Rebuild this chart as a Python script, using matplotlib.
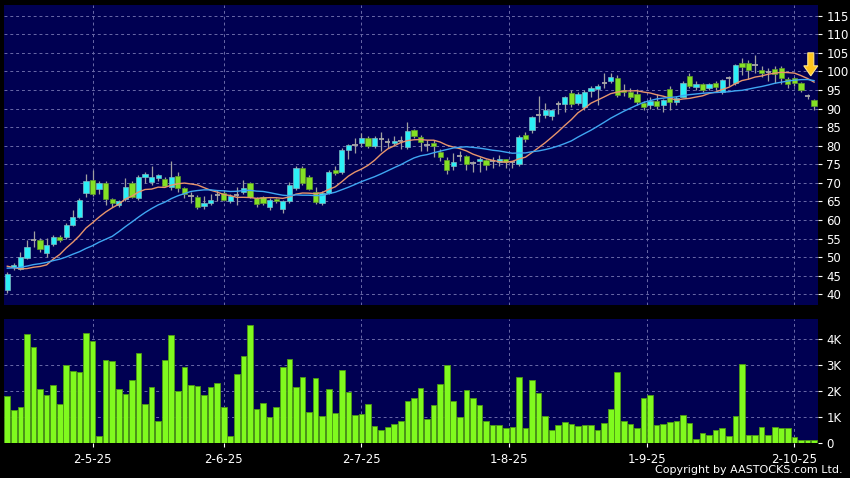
import matplotlib
matplotlib.use("Agg")
import matplotlib.pyplot as plt
from matplotlib.patches import Polygon
from matplotlib.transforms import IdentityTransform
import numpy as np
import pandas as pd

# ---------------- data ----------------
opens = [41.2, 47.3, 46.9, 49.8, 54.6, 54.5, 51.0, 53.6, 55.4, 55.4,
         58.7, 60.9, 67.4, 70.8, 68.4, 69.9, 65.6, 64.0, 65.6, 69.9,
         65.9, 71.7, 70.2, 71.2, 71.1, 69.0, 71.9, 68.5, 66.4, 66.3,
         63.8, 64.5, 66.8, 67.4, 65.0, 66.8, 67.6, 69.9, 65.8, 66.1,
         63.6, 65.6, 62.9, 65.0, 68.5, 73.9, 71.7, 67.6, 64.5, 67.4,
         73.5, 72.8, 78.9, 80.2, 80.7, 82.0, 80.0, 81.7, 80.9, 80.8,
         81.3, 79.6, 84.2, 82.4, 80.3, 80.6, 78.2, 76.2, 74.6, 77.1,
         77.2, 75.3, 75.9, 76.2, 75.9, 75.6, 76.3, 75.7, 75.1, 82.8,
         84.1, 88.3, 88.3, 88.0, 91.2, 91.2, 94.1, 91.6, 90.3, 94.8,
         95.3, 96.8, 97.3, 98.3, 95.0, 94.5, 93.9, 91.5, 90.9, 92.1,
         90.9, 95.3, 91.7, 93.2, 98.8, 95.9, 96.5, 95.6, 96.8, 94.6,
         98.2, 96.8, 102.4, 102.4, 101.7, 100.5, 99.8, 100.6, 101.0, 98.0,
         98.2, 96.8, 93.3, 92.3]
closes = [45.5, 47.9, 50.0, 52.7, 54.6, 52.1, 53.3, 55.4, 54.6, 58.7,
          60.9, 65.4, 70.6, 66.9, 69.9, 65.7, 64.7, 65.1, 68.8, 66.3,
          71.7, 72.4, 71.7, 72.1, 69.2, 71.7, 68.5, 67.0, 66.4, 63.6,
          64.5, 65.4, 66.8, 65.4, 66.5, 66.8, 68.7, 66.3, 64.3, 64.6,
          65.4, 65.1, 65.1, 69.3, 73.9, 69.9, 68.3, 64.9, 67.2, 73.0,
          72.6, 78.8, 80.2, 80.2, 82.0, 80.0, 82.0, 81.7, 80.9, 81.4,
          81.3, 84.0, 82.5, 80.9, 80.3, 79.9, 77.0, 73.4, 75.7, 77.1,
          75.2, 75.3, 76.3, 74.8, 75.9, 76.3, 75.6, 75.7, 82.3, 81.7,
          87.8, 88.3, 89.6, 89.6, 91.2, 93.0, 91.2, 93.9, 94.6, 95.5,
          96.1, 96.8, 98.4, 93.7, 94.4, 93.0, 91.7, 90.3, 92.1, 90.7,
          92.3, 91.8, 92.8, 96.8, 96.0, 96.6, 95.0, 96.7, 95.8, 97.6,
          98.2, 101.7, 101.1, 100.5, 101.7, 99.5, 99.8, 99.4, 98.3, 96.7,
          96.9, 95.0, 93.3, 90.7]
highs = [46.0, 48.5, 51.5, 54.5, 56.9, 55.1, 55.1, 56.0, 56.0, 59.2,
         62.7, 65.8, 72.4, 73.5, 70.5, 70.5, 66.0, 65.5, 71.2, 70.5,
         72.0, 72.8, 74.6, 72.5, 71.5, 76.0, 73.0, 69.0, 67.5, 66.8,
         66.5, 67.0, 68.0, 68.0, 67.0, 69.0, 70.8, 70.3, 66.3, 66.5,
         66.0, 66.0, 65.5, 70.2, 74.5, 74.5, 72.2, 69.0, 67.8, 73.5,
         74.5, 79.3, 80.5, 82.0, 83.5, 82.5, 82.5, 83.7, 82.0, 82.5,
         82.5, 86.5, 84.5, 83.0, 81.5, 81.5, 79.0, 77.0, 78.0, 78.5,
         77.5, 76.0, 77.0, 76.5, 77.0, 77.5, 76.5, 76.0, 83.0, 83.8,
         88.0, 93.5, 91.4, 90.0, 92.0, 93.5, 95.0, 94.5, 95.0, 96.0,
         96.5, 99.7, 99.5, 99.0, 96.5, 95.5, 95.3, 92.0, 93.0, 94.0,
         92.5, 96.0, 93.5, 97.5, 99.5, 97.5, 97.0, 97.0, 97.5, 98.0,
         98.8, 102.0, 103.5, 103.0, 104.5, 101.5, 101.0, 101.5, 101.5, 98.5,
         98.5, 97.2, 94.0, 92.5]
lows = [40.4, 46.6, 46.5, 49.5, 52.8, 51.5, 50.1, 53.0, 54.0, 55.0,
        58.5, 60.5, 66.3, 66.5, 67.0, 64.1, 63.5, 63.5, 65.0, 65.8,
        65.5, 70.0, 69.5, 70.5, 68.8, 68.0, 67.5, 65.8, 64.5, 63.0,
        63.0, 64.0, 65.0, 65.0, 64.5, 64.0, 67.0, 66.0, 63.5, 64.0,
        62.8, 64.5, 62.0, 64.5, 68.0, 69.5, 68.0, 64.2, 64.0, 67.0,
        72.0, 72.5, 76.5, 78.0, 80.0, 79.5, 79.5, 78.7, 79.5, 80.0,
        79.0, 79.0, 82.0, 78.5, 78.5, 77.0, 76.0, 72.5, 73.5, 76.0,
        73.5, 73.0, 73.0, 73.5, 74.0, 74.5, 74.0, 74.0, 74.5, 81.0,
        83.5, 86.5, 87.5, 86.8, 88.5, 89.0, 90.5, 91.0, 89.5, 93.0,
        91.0, 95.5, 97.0, 93.0, 93.5, 92.5, 91.0, 89.5, 90.0, 90.0,
        89.0, 89.5, 91.0, 93.0, 95.5, 95.0, 94.5, 95.0, 95.0, 93.8,
        96.0, 96.3, 99.0, 98.0, 99.5, 98.5, 97.5, 97.0, 96.5, 95.5,
        96.0, 94.5, 92.5, 89.5]
# volume in thousands
volumes = [1.79, 1.28, 1.38, 4.19, 3.69, 2.07, 1.85, 2.22, 1.51, 3.00,
           2.77, 2.72, 4.24, 3.92, 0.26, 3.18, 3.13, 2.08, 1.89, 2.41,
           3.46, 1.51, 2.15, 0.84, 3.18, 4.15, 1.98, 2.91, 2.22, 2.17,
           1.85, 2.15, 2.29, 1.40, 0.28, 2.63, 3.35, 4.52, 1.32, 1.53,
           1.00, 1.40, 2.91, 3.22, 2.16, 2.52, 1.20, 2.49, 1.05, 2.07,
           1.14, 2.81, 1.95, 1.06, 1.11, 1.49, 0.66, 0.49, 0.63, 0.73,
           0.84, 1.61, 1.71, 2.12, 0.93, 1.47, 2.27, 3.01, 1.60, 0.98,
           2.03, 1.71, 1.47, 0.86, 0.68, 0.69, 0.56, 0.60, 2.53, 0.57,
           2.40, 1.92, 1.02, 0.51, 0.68, 0.79, 0.74, 0.64, 0.69, 0.70,
           0.51, 0.77, 1.32, 2.73, 0.86, 0.74, 0.59, 1.71, 1.86, 0.69,
           0.74, 0.82, 0.84, 1.07, 0.78, 0.15, 0.40, 0.32, 0.50, 0.59,
           0.26, 1.03, 3.03, 0.32, 0.29, 0.61, 0.32, 0.60, 0.56, 0.56,
           0.24, 0.11, 0.11, 0.11]
# closes before the visible window (seed the moving averages)
prior_closes = [46.5, 47.0, 46.0, 46.5, 47.0, 46.5, 46.0, 46.5, 47.0, 46.0,
                52.0, 53.0, 52.0, 51.0, 50.0, 49.0, 40.0, 42.0, 41.0]
tick_pos = [13, 33, 54, 76.5, 97.5, 120]
tick_labels = ["2-5-25", "2-6-25", "2-7-25", "1-8-25", "1-9-25", "2-10-25"]
price_ticks = list(range(40, 116, 5))
vol_ticks = [0, 1, 2, 3, 4]
vol_labels = ["0", "1K", "2K", "3K", "4K"]

# ---------------- styling ----------------
BG = "#000052"
CYAN = "#2CEFF7"
GREEN = "#84E024"
DOJI = "#A8A8A8"
WICK = "#A0A0A0"
VOLG = "#80FA1E"
GRID = "#6A6AA8"
MA10C = "#E8956C"
MA20C = "#3FA6F2"

o = np.array(opens); c = np.array(closes); h = np.array(highs); l = np.array(lows)
v = np.array(volumes)
n = len(c)
x = np.arange(n)

allc = pd.Series(prior_closes + closes)
ma10 = allc.rolling(10, min_periods=1).mean().values[len(prior_closes):]
ma20 = allc.rolling(20, min_periods=1).mean().values[len(prior_closes):]

W, H = 850, 478
fig = plt.figure(figsize=(W / 100, H / 100), dpi=100, facecolor="black")
ax1 = fig.add_axes([4 / W, 1 - 305 / H, 814 / W, 300 / H], facecolor=BG)
ax2 = fig.add_axes([4 / W, 1 - 443 / H, 814 / W, 124 / H], facecolor=BG)

grid_kw = dict(color=GRID, linestyle=(0, (3, 3)), linewidth=0.7)

# ---- price panel ----
up = c > o + 0.05
down = c < o - 0.05
doji = ~(up | down)
ax1.vlines(x, l, h, color=WICK, linewidth=0.9, zorder=3)
bw = 0.8
ax1.bar(x[up], (c - o)[up], bottom=o[up], width=bw, color=CYAN,
        edgecolor="#7FB8C0", linewidth=0.5, zorder=4)
ax1.bar(x[down], (o - c)[down], bottom=c[down], width=bw, color=GREEN,
        edgecolor="#5E9A2A", linewidth=0.5, zorder=4)
ax1.hlines(c[doji], x[doji] - bw / 2, x[doji] + bw / 2, color=DOJI,
           linewidth=1.3, zorder=4)
ax1.plot(x, ma10, color=MA10C, linewidth=1.0, zorder=5)
ax1.plot(x, ma20, color=MA20C, linewidth=1.0, zorder=5)

ax1.set_xlim(-0.5, n - 0.4)
ax1.set_ylim(37.1, 117.9)
ax1.set_yticks(price_ticks)
ax1.set_xticks(tick_pos)
ax1.tick_params(axis="x", which="both", length=0, labelbottom=False)
ax1.yaxis.tick_right()
ax1.tick_params(axis="y", colors="white", labelcolor="white", length=3,
                width=0.8, pad=3, labelsize=8.5)
for yv in price_ticks:
    ax1.axhline(yv, zorder=1, **grid_kw)
for xv in tick_pos:
    ax1.axvline(xv, zorder=1, **grid_kw)
for s in ax1.spines.values():
    s.set_visible(False)

# arrow marker pointing at the latest moving-average value (drawn in pixels)
tip = ax1.transData.transform((n - 1.5, ma20[-1] + 1.3))
arrow_shape = np.array([[0, 0], [-7, 10], [-3, 10], [-3, 23], [3, 23], [3, 10], [7, 10]], float)
arrow = Polygon(tip + arrow_shape, closed=True, transform=IdentityTransform(),
                facecolor="#FFC51C", edgecolor="#FFE48A", linewidth=0.8, zorder=7)
fig.add_artist(arrow)

# ---- volume panel ----
ax2.bar(x, v, width=0.86, color=VOLG, edgecolor="#4E9A14", linewidth=0.6, zorder=3)
ax2.set_xlim(-0.5, n - 0.4)
ax2.set_ylim(0, 4.76)
ax2.set_yticks(vol_ticks)
ax2.set_yticklabels(vol_labels)
ax2.yaxis.tick_right()
ax2.tick_params(axis="y", colors="white", labelcolor="white", length=3,
                width=0.8, pad=3, labelsize=8.5)
ax2.set_xticks(tick_pos)
ax2.set_xticklabels(tick_labels)
ax2.tick_params(axis="x", colors="white", labelcolor="white", length=3,
                width=0.8, pad=4, labelsize=8.5)
for yv in vol_ticks[1:]:
    ax2.axhline(yv, zorder=1, **grid_kw)
for xv in tick_pos:
    ax2.axvline(xv, zorder=1, **grid_kw)
for s in ax2.spines.values():
    s.set_visible(False)

fig.text(843 / W, 1 - 470 / H, "Copyright by AASTOCKS.com Ltd.", color="white",
         fontsize=8, ha="right", va="center")

fig.savefig("out.png", dpi=100, facecolor="black")
